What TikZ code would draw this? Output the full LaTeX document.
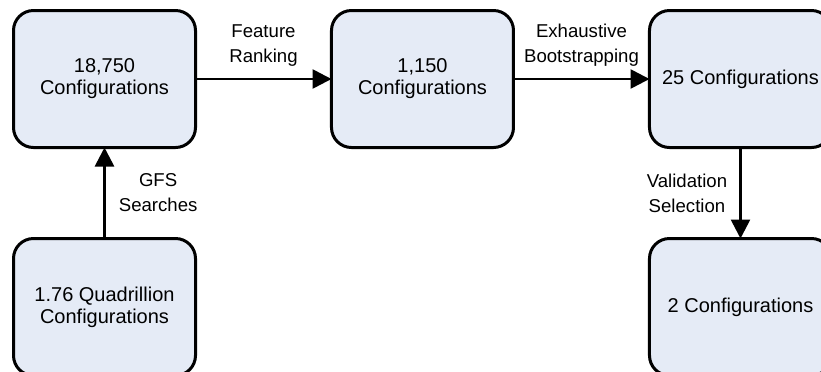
\documentclass[tikz,border=0pt]{standalone}
\usepackage{fontspec}
\setmainfont{Liberation Sans}
\usepackage{tikz}
\usetikzlibrary{matrix, arrows.meta}
\usepackage{xcolor}
\definecolor{boxfill}{HTML}{E5EBF6}
\tikzset{
  box/.style={draw, line width=1.5pt, rounded corners=10pt, fill=boxfill,
    minimum width=91pt, minimum height=68.5pt, inner sep=2pt, outer sep=0pt,
    align=center, font=\fontsize{10}{11}\selectfont},
  lbl/.style={inner sep=0pt, align=center, font=\fontsize{9.3}{12.5}\selectfont}
}

\begin{document}
\begin{tikzpicture}[x=0.5pt, y=-0.5pt]
  \useasboundingbox (0,0) rectangle (821,371);
  \matrix (m) [row sep=44pt, column sep=66.5pt, inner sep=0pt, outer sep=0pt,
    anchor=north west] at (12,9)
  {
    \node[box] (searched) {18,750\\Configurations}; &
    \node[box] (ranked) {1,150\\Configurations}; &
    \node[box] (boot) {25 Configurations}; \\
    \node[box] (all) {1.76 Quadrillion\\Configurations}; & &
    \node[box] (chosen) {2 Configurations}; \\
  };
  \path[-{Triangle[length=9.5pt, width=9.5pt]}, line width=1.35pt]
    (all) edge node [right=6.5pt, lbl] {GFS\\Searches} (searched)

    (searched) edge node [above=5.5pt, lbl] {Feature\\Ranking} (ranked)

    (ranked) edge node [above=5.5pt, lbl] {Exhaustive\\Bootstrapping} (boot)

    (boot) edge node [left=6pt, lbl] {Validation\\Selection} (chosen)
    ;
\end{tikzpicture}
\end{document}
